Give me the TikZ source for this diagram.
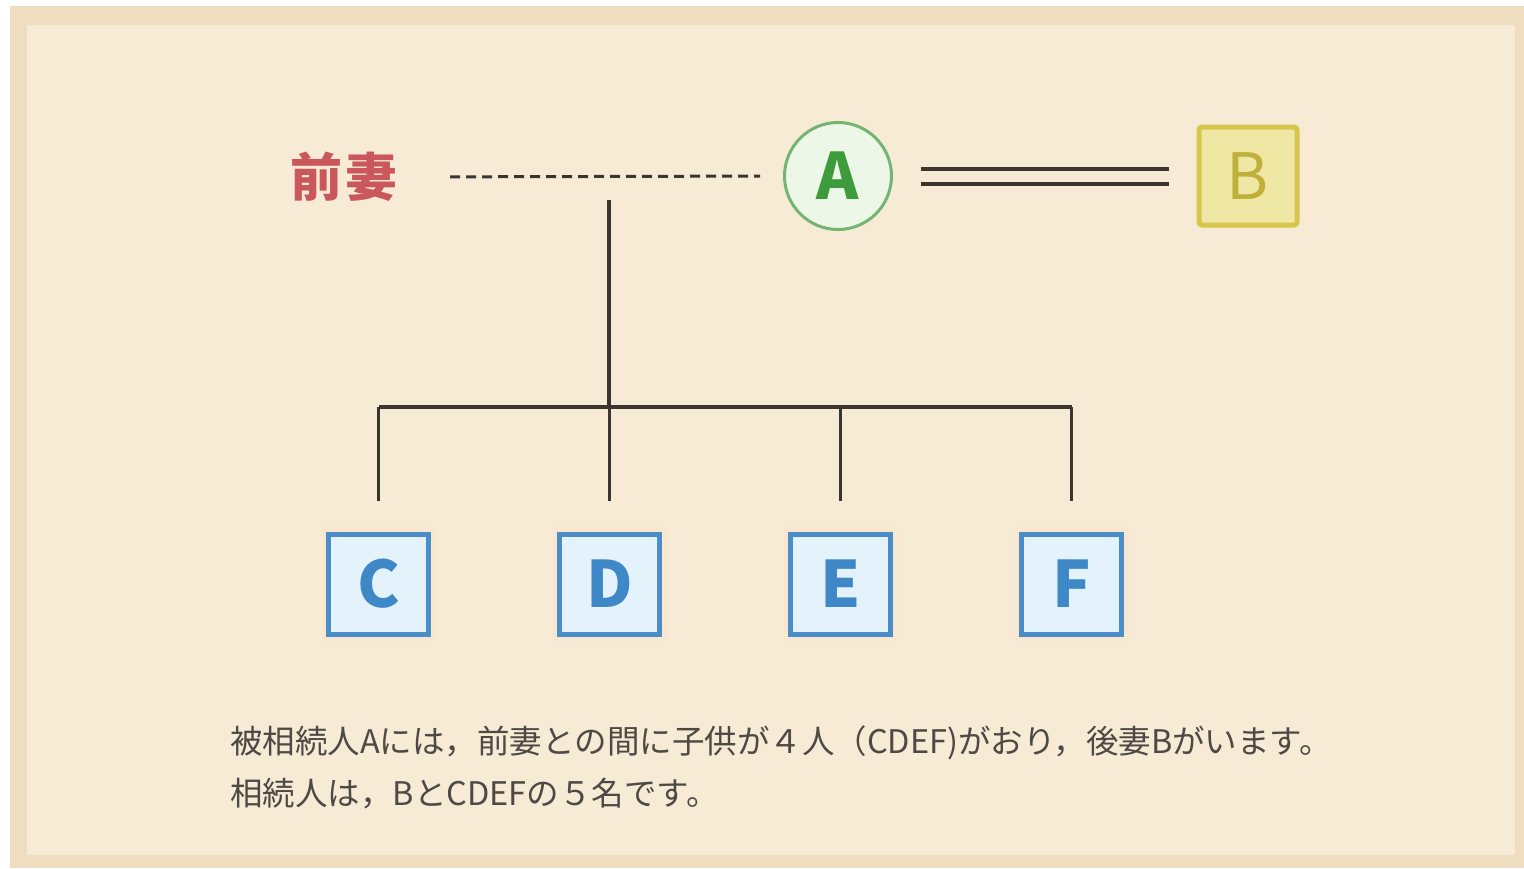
\documentclass[tikz,border=0pt]{standalone}
\usepackage{fontspec}
\setmainfont{Noto Sans CJK JP}
\definecolor{band}{HTML}{EEDEBF}
\definecolor{paper}{HTML}{F7EBD5}
\definecolor{ink}{HTML}{3B3530}
\definecolor{exred}{HTML}{C9575C}
\definecolor{agreen}{HTML}{74B572}
\definecolor{agreenfill}{HTML}{EDF7E8}
\definecolor{agreentext}{HTML}{3E9B3C}
\definecolor{byel}{HTML}{D6C64C}
\definecolor{byelfill}{HTML}{EFE7A4}
\definecolor{byeltext}{HTML}{BFB03A}
\definecolor{cblue}{HTML}{4B8DC9}
\definecolor{cbluefill}{HTML}{E4F2FB}
\definecolor{cbluetext}{HTML}{3F88C8}
\definecolor{halo}{HTML}{FAE7CF}
\tikzset{
  childbox/.style={draw=cblue, fill=cbluefill, line width=5pt, minimum size=100pt, inner sep=0pt,
    text=cbluetext, font=\fontsize{64}{64}\selectfont\bfseries,
    preaction={draw=halo, line width=14pt}},
  spouse/.style={draw=byel, fill=byelfill, line width=5pt, minimum size=98pt, inner sep=0pt, rounded corners=3pt,
    text=byeltext, font=\fontsize{64}{64}\selectfont},
  decedent/.style={circle, draw=agreen, fill=agreenfill, line width=3pt, minimum size=107pt, inner sep=0pt,
    text=agreentext, font=\fontsize{64}{64}\selectfont\bfseries},
  link/.style={draw=ink, line width=3.5pt},
  bodytext/.style={anchor=west, inner sep=0pt, text=ink!90, font=\fontsize{32.5}{32.5}\selectfont}
}
\begin{document}
\begin{tikzpicture}[x=1pt,y=-1pt]
\useasboundingbox (0,0) rectangle (1524,868);
\fill[white] (0,0) rectangle (1524,868);
\fill[band] (10,6) rectangle (1524,868);
\fill[paper] (27,25) rectangle (1515,855);

\node[text=exred, inner sep=0pt, font=\fontsize{52}{52}\selectfont\bfseries] (ex) at (344,177) {前\hspace{4pt}妻};
\node[decedent] (A) at (838,176) {A};
\node[spouse] (B) at (1248,176) {B};

\coordinate (top) at (609,200);
\coordinate (bar) at (609,407);

\node[childbox] (C) at (378.5,584) {C};
\node[childbox] (D) at (609.5,584) {D};
\node[childbox] (E) at (840.5,584) {E};
\node[childbox] (F) at (1071.5,584) {F};

\draw[link, line width=3pt, dash pattern=on 10pt off 6pt, shorten <=52pt, shorten >=23pt] (ex.east) -- (A.west);
\draw[draw=ink, line width=4pt, double=paper, double distance=11pt, shorten <=28pt, shorten >=28pt] (A.east) -- (B.west);

\draw[link] (top) -- (bar);
\draw[link] (C.north |- bar) -- (F.north |- bar);
\foreach \n in {C,D,E,F}{
  \draw[link, shorten >=31pt] (\n.north |- bar) -- (\n.north);
}

\node[bodytext] (t1) at (230,743) {被相続人Aには，前妻との間に子供が４人（CDEF)がおり，後妻Bがいます。};
\node[bodytext] (t2) at (230,794) {相続人は，BとCDEFの５名です。};
\end{tikzpicture}
\end{document}
